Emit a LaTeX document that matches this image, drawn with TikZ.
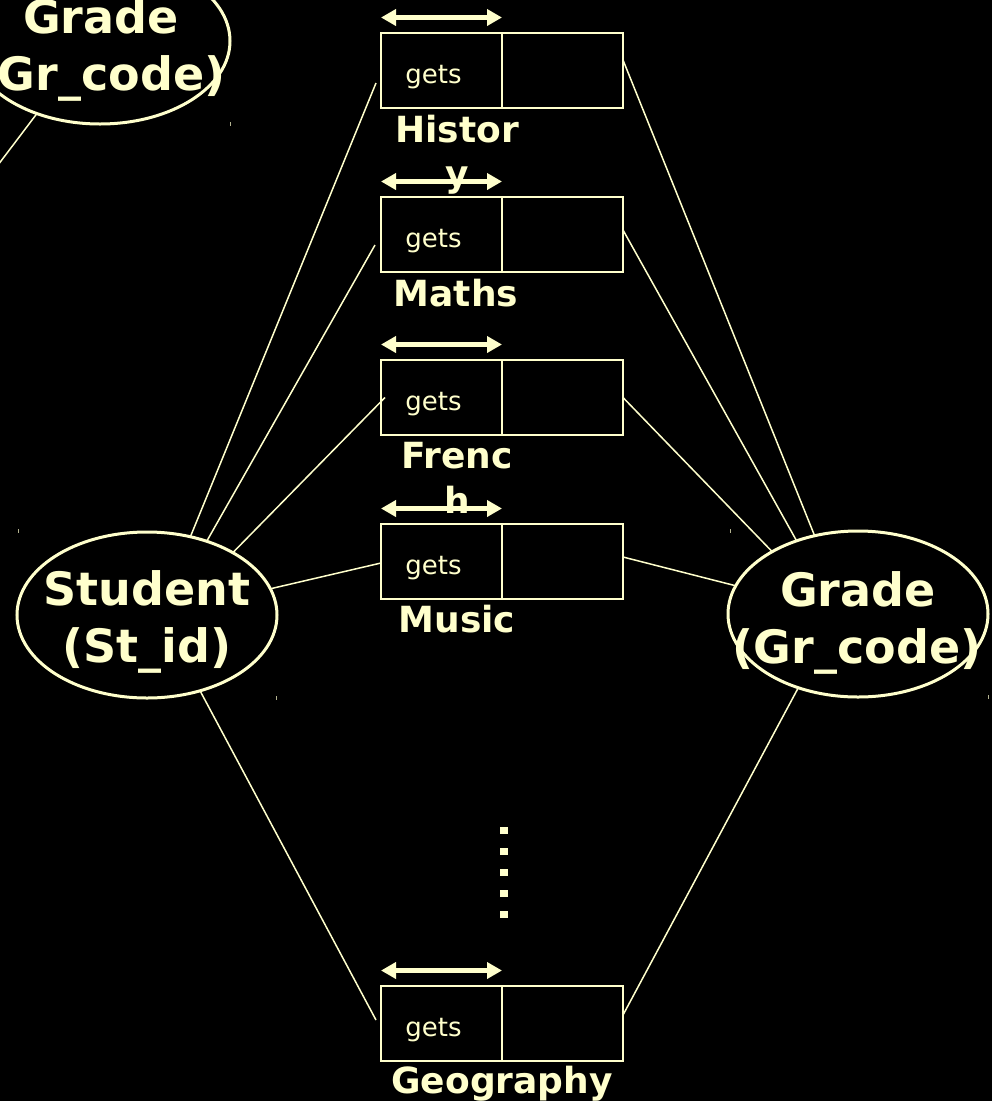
\documentclass[tikz,border=0pt]{standalone}
\usepackage{fontspec}
\setmainfont{DejaVu Sans}
\usetikzlibrary{shapes.geometric,arrows.meta,calc}
\definecolor{cream}{HTML}{FFFFCC}
\begin{document}
\begin{tikzpicture}[x=1pt,y=-1pt,
  ent/.style={draw=cream, ellipse, line width=3pt, minimum width=260pt, minimum height=166pt, inner sep=0pt, outer sep=0pt},
  enttxt/.style={text=cream, font=\fontsize{46}{57}\selectfont\bfseries, anchor=base, inner sep=0pt},
  cell/.style={draw=cream, line width=2pt, minimum width=121pt, minimum height=75pt, inner sep=0pt, outer sep=0pt},
  getstxt/.style={text=cream, font=\fontsize{26}{30}\selectfont, anchor=base, inner sep=0pt},
  subj/.style={text=cream, font=\fontsize{36}{44}\selectfont\bfseries, anchor=base, inner sep=0pt},
  link/.style={draw=cream, line width=1.5pt},
  darr/.style={draw=cream, line width=4.5pt, {Triangle[length=15pt,width=16pt]}-{Triangle[length=15pt,width=16pt]}},
  tick/.style={fill=cream!70!black}
]
\useasboundingbox (0,0) rectangle (992,1101);
\fill[black] (0,0) rectangle (992,1101);
\clip (0,0) rectangle (992,1101);

% entities
\node[ent] (gtop) at (100,41) {};
\node[enttxt] (gtopA) at (101,33) {Grade};
\node[enttxt] (gtopB) at (101,90) {(Gr\_code)};
\coordinate (offl) at (-30,202);
\draw[link] (gtop.229) -- (offl);

\node[ent] (stu) at (147,615) {};
\node[enttxt] (stuA) at (147,605) {Student};
\node[enttxt] (stuB) at (147,662) {(St\_id)};

\node[ent] (gr) at (858,614) {};
\node[enttxt] (grA) at (858,606) {Grade};
\node[enttxt] (grB) at (857,663) {(Gr\_code)};

% relationship boxes
\foreach \n/\cy in {h/70.5, m/234.5, f/397.5, u/561.5, g/1023.5} {
  \node[cell] (\n L) at (441.5,\cy) {};
  \node[cell] (\n R) at (562.5,\cy) {};
  \node[getstxt] (\n T) at (433.5,\cy+12.5) {gets};
  \draw[darr] ([yshift=15.5pt]\n L.north west) -- ([yshift=15.5pt]\n L.north east);
}

% subject labels
\node[subj] (hS1) at (457,142) {Histor};
\node[subj] (hS2) at (457,186) {y};
\node[subj] (mS) at (456,306) {Maths};
\node[subj] (fS1) at (457,468) {Frenc};
\node[subj] (fS2) at (457,513) {h};
\node[subj] (uS) at (457,632) {Music};
\node[subj] (gS) at (502,1093) {Geography};

% left connectors
\draw[link] ([xshift=-5pt,yshift=-12.5pt]hL.west) -- (stu.61);
\draw[link] ([xshift=-6pt,yshift=-10.5pt]mL.west) -- (stu.51.6);
\draw[link] ([xshift=4pt]fL.west) -- (stu.36.9);
\draw[link] ([yshift=-1.5pt]uL.west) -- (stu.12.2);
\draw[link] ([xshift=-5pt,yshift=3.5pt]gL.west) -- (stu.-55.6);

% right connectors
\draw[link] ([yshift=10.5pt]hR.east) -- (gr.119.3);
\draw[link] ([yshift=4.5pt]mR.east) -- (gr.130.4);
\draw[link] (fR.east) -- (gr.144.3);
\draw[link] ([yshift=4.5pt]uR.east) -- (gr.167.8);
\draw[link] ([yshift=8.5pt]gR.east) -- (gr.231.4);

% vertical dots
\foreach \yy in {830,851,872,893,914}
  \fill[cream] (500,\yy-3.5) rectangle (508,\yy+3.5);

% small marks
\fill[tick] (229.5,122) rectangle (230.5,126);
\fill[tick] (17.5,529) rectangle (18.5,533);
\fill[tick] (275.5,696) rectangle (276.5,700);
\fill[tick] (729.5,529) rectangle (730.5,533);
\fill[tick] (987.5,695) rectangle (988.5,699);
\end{tikzpicture}
\end{document}
